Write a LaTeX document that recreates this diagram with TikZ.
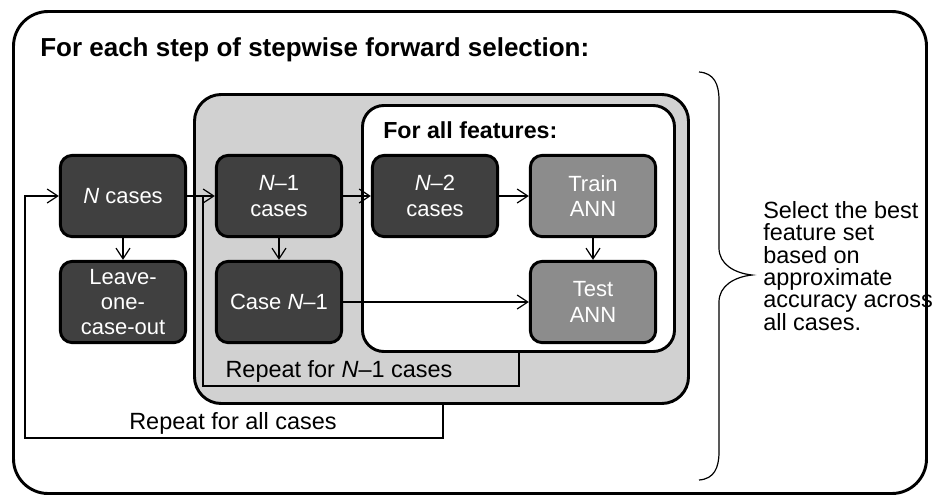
\documentclass[tikz,border=0pt]{standalone}
\usepackage{fontspec}
\setmainfont{Liberation Sans}
\usetikzlibrary{arrows.meta}

\definecolor{boxdark}{gray}{0.25}
\definecolor{boxmid}{gray}{0.55}
\definecolor{loopgrey}{gray}{0.82}

\tikzset{
  stepbox/.style={draw=black, line width=2.2pt, rounded corners=9pt,
    minimum width=94pt, minimum height=61pt, inner sep=2pt, align=center,
    text=white, font=\fontsize{16.5}{19}\selectfont},
  darkbox/.style={stepbox, fill=boxdark},
  annbox/.style={stepbox, fill=boxmid},
  flow/.style={line width=0.9pt, -{Straight Barb[length=8pt,width=10.5pt,line width=0.9pt]}},
  loopline/.style={line width=0.9pt},
  looptext/.style={font=\fontsize{17.6}{20}\selectfont, inner sep=0pt}
}

\begin{document}
\begin{tikzpicture}[x=0.75pt, y=-0.75pt]
  \useasboundingbox (0,0) rectangle (932,497);

  %%%%% frames %%%%%
  \node (frame) [draw=black, line width=2.2pt, rounded corners=26pt,
    minimum width=684.75pt, minimum height=361.5pt] at (470,252.5) {};
  \node (title) [anchor=base west, inner sep=0pt,
    font=\fontsize{19.5}{23}\selectfont\bfseries] at (40,56)
    {For each step of stepwise forward selection:};

  \node (outerloop) [draw=black, fill=loopgrey, line width=2.2pt, rounded corners=20pt,
    minimum width=370.5pt, minimum height=231.75pt] at (441.5,249) {};
  \node (innerloop) [draw=black, fill=white, line width=2.2pt, rounded corners=16pt,
    minimum width=234pt, minimum height=184.5pt] at (518.5,228.5) {};
  \node (features) [anchor=base west, inner sep=0pt,
    font=\fontsize{17.4}{21}\selectfont\bfseries] at (383,138) {For all features:};

  %%%%% steps %%%%%
  \node (ncases) [darkbox] at (123,196) {\textit{N} cases};
  \node (leave) [darkbox] at (123,302) {Leave-\\one-\\case-out};
  \node (nminusone) [darkbox] at (279,196) {\textit{N}\textendash1\\cases};
  \node (caseout) [darkbox] at (279,302) {Case \textit{N}\textendash1};
  \node (nminustwo) [darkbox] at (435,196) {\textit{N}\textendash2\\cases};
  \node (train) [annbox] at (593,196) {Train\\ANN};
  \node (test) [annbox] at (593,302) {Test\\ANN};

  \draw[flow] (ncases) -- (leave);
  \draw[flow] (ncases) -- (nminusone);
  \draw[flow] (nminusone) -- (caseout);
  \draw[flow] (nminusone) -- (nminustwo);
  \draw[flow] (nminustwo) -- (train);
  \draw[flow] (train) -- (test);
  \draw[flow] (caseout.east) -- (caseout.east -| test.west);

  %%%%% loops %%%%%
  \coordinate (nrep) at (519,386);
  \coordinate (nrepleft) at (203,386);
  \draw[loopline] (innerloop.south -| nrep) -- (nrep) -- (nrepleft) -- (nrepleft |- nminusone.west);
  \node (nreptext) [looptext] at (339,371) {Repeat for \textit{N}\textendash1 cases};

  \coordinate (allrep) at (443,438);
  \coordinate (allrepleft) at (25,438);
  \draw[flow] (outerloop.south -| allrep) -- (allrep) -- (allrepleft) |- (ncases.west);
  \node (allreptext) [looptext] at (233,423) {Repeat for all cases};

  %%%%% result %%%%%
  \draw[line width=0.9pt] (699,72) .. controls (714,73) and (719,84) .. (719,100)
    -- (719,248) .. controls (719,264) and (734,273) .. (752,275)
    .. controls (734,277) and (719,286) .. (719,302)
    -- (719,452) .. controls (719,468) and (714,479) .. (699,480);
  \node (select) [anchor=west, align=left, inner sep=0pt,
    font=\fontsize{17.6}{16.8}\selectfont] at (763,266)
    {Select the best\\feature set\\based on\\approximate\\accuracy across\\all cases.};
\end{tikzpicture}
\end{document}
